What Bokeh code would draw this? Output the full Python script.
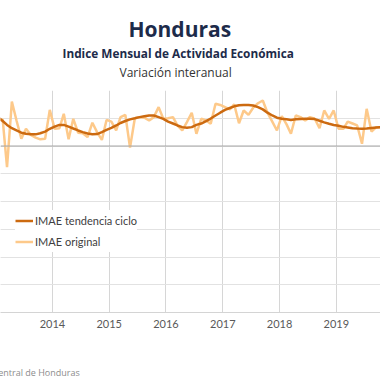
import pandas as pd
from bokeh.plotting import figure
from bokeh.models import (Range1d, FixedTicker, DatetimeTickFormatter, Grid, Span,
                          Title, Legend, LegendItem)
from bokeh.embed import file_html
from bokeh.resources import INLINE

# ---- data (monthly, from Jan 2013) ----
start_month = "2013-01"
n_months = 82
imae_original = [4.5, 4.8, -3.8, 8.0, 4.6, 1.3, 3.1, 2.0, 1.5, 1.2, 1.3, 6.5,
                 3.1, 3.2, 5.8, 1.2, 4.9, 2.4, 2.3, 1.6, 4.2, 2.5, 1.1, 4.7,
                 4.4, 2.8, 5.2, 5.6, -0.3, 5.0, 5.2, 5.1, 4.6, 5.2, 7.0, 4.9,
                 5.0, 5.2, 3.7, 2.8, 4.3, 6.0, 2.2, 4.9, 4.6, 4.0, 7.6, 7.4,
                 7.0, 6.6, 7.5, 4.1, 6.4, 5.6, 6.9, 7.7, 8.2, 6.0, 4.4, 2.8,
                 5.4, 3.9, 2.2, 5.5, 5.2, 4.6, 5.2, 4.9, 3.2, 6.4, 4.9, 6.4,
                 3.1, 3.1, 4.4, 4.05, 3.7, 0.4, 6.7, 2.6, 3.4, 3.4]
imae_tendencia = [5.2, 4.5, 3.8, 3.2, 2.8, 2.4, 2.2, 2.1, 2.1, 2.3, 2.6, 3.1,
                  3.5, 3.8, 3.8, 3.5, 3.15, 2.8, 2.5, 2.25, 2.1, 2.15, 2.5, 2.9,
                  3.25, 3.7, 4.15, 4.5, 4.8, 5.0, 5.2, 5.35, 5.5, 5.5, 5.2, 4.9,
                  4.4, 4.05, 3.7, 3.4, 3.3, 3.4, 3.8, 4.05, 4.5, 4.95, 5.5, 6.0,
                  6.5, 6.85, 7.15, 7.35, 7.4, 7.4, 7.3, 7.0, 6.6, 6.0, 5.5, 5.1,
                  4.9, 4.8, 4.7, 4.8, 4.85, 4.9, 4.9, 4.85, 4.55, 4.25, 4.0, 3.8,
                  3.65, 3.45, 3.35, 3.2, 3.15, 3.1, 3.15, 3.25, 3.35, 3.4]
year_ticks = [2013, 2014, 2015, 2016, 2017, 2018, 2019, 2020]
y_grid_values = [10, 5, 0, -5, -10, -15, -20, -25, -30]

dates = pd.date_range(start_month, periods=n_months, freq="MS") + pd.Timedelta(days=14)

FONT = "Lato"
TFONT = "Open Sans"

p = figure(width=380, height=380, output_backend="svg", toolbar_location=None,
           x_axis_type="datetime", y_axis_location=None,
           x_range=Range1d(pd.Timestamp("2013-02-01"), pd.Timestamp("2019-10-12")),
           y_range=Range1d(-30, 10),
           min_border_left=0, min_border_right=0, min_border_top=90, min_border_bottom=68,
           background_fill_color="white", border_fill_color="white")
p.outline_line_color = None

tick_ms = [pd.Timestamp(f"{y}-01-01").value // 10**6 for y in year_ticks]
p.xaxis.ticker = FixedTicker(ticks=tick_ms)
p.xaxis.formatter = DatetimeTickFormatter(years="%Y", months="%Y", days="%Y",
                                          hours="%Y", minutes="%Y", seconds="%Y",
                                          milliseconds="%Y", microseconds="%Y")
p.xaxis.axis_line_color = "#d4d4d4"
p.xaxis.major_tick_line_color = None
p.xaxis.minor_tick_line_color = None
p.xaxis.major_tick_out = 0
p.xaxis.major_label_standoff = 7
p.xaxis.major_label_text_font = FONT
p.xaxis.major_label_text_font_size = "11px"
p.xaxis.major_label_text_color = "#595959"
p.xgrid.grid_line_color = "#d6d6d6"

ygrid = Grid(dimension=1, ticker=FixedTicker(ticks=y_grid_values),
             grid_line_color="#e2e2e2", grid_line_width=1)
p.add_layout(ygrid)
p.add_layout(Span(location=0, dimension="width", line_color="#a6a6a6", line_width=1))

r_orig = p.line(dates, imae_original, line_color="#fdc98a", line_width=2.5)
r_trend = p.line(dates, imae_tendencia, line_color="#cc6a10", line_width=2.5)

legend = Legend(items=[LegendItem(label="IMAE tendencia ciclo", renderers=[r_trend]),
                       LegendItem(label="IMAE original", renderers=[r_orig])],
                location=(15, 60), padding=5, spacing=0, margin=0,
                glyph_width=18, glyph_height=21, label_height=21, label_standoff=2,
                label_text_font=FONT, label_text_font_size="11px",
                label_text_color="#404040",
                background_fill_color="white", background_fill_alpha=1.0,
                border_line_color=None)
p.add_layout(legend, "center")

# titles: first added sits closest to the frame
p.add_layout(Title(text=" ", text_font_size="1px", standoff=7), "above")
p.add_layout(Title(text="Variación interanual", align="left", offset=119, standoff=0,
                   text_font=TFONT, text_font_style="normal", text_font_size="12px",
                   text_color="#333333"), "above")
p.add_layout(Title(text="Indice Mensual de  Actividad Económica", align="left",
                   offset=62, standoff=1, vertical_align="bottom", text_font=TFONT,
                   text_font_style="bold", text_font_size="11.8px",
                   text_color="#1d2b4a"), "above")
p.add_layout(Title(text="Honduras", align="left", offset=128, standoff=0,
                   text_font=TFONT, text_font_style="bold", text_font_size="21px",
                   text_color="#1d2b4a"), "above")

p.add_layout(Title(text=" ", text_font_size="1px", standoff=30), "below")
p.add_layout(Title(text="Fuente: Banco Central de Honduras", align="left", offset=-70,
                   standoff=0, text_font=TFONT, text_font_style="normal",
                   text_font_size="9px", text_color="#8c8c8c"), "below")

open("out.html", "w").write(file_html(p, INLINE))
